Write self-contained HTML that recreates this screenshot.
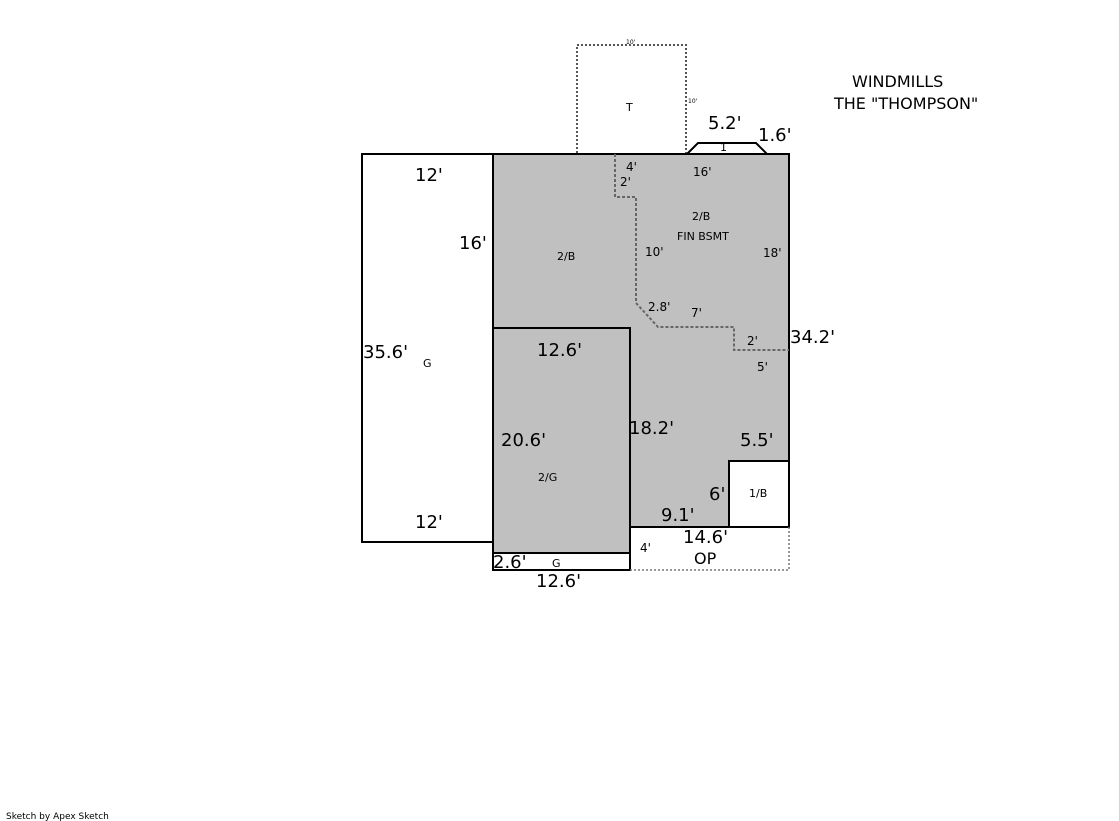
<!DOCTYPE html>
<html><head><meta charset="utf-8"><style>
html,body{margin:0;padding:0;background:#fff;}
svg{display:block;}
text{font-family:"DejaVu Sans","Liberation Sans",sans-serif;fill:#000;}
.b{font-size:18px;}
.s{font-size:12px;}
.t{font-size:11px;}
</style></head><body>
<svg width="1119" height="821" viewBox="0 0 1119 821" xmlns="http://www.w3.org/2000/svg">
<rect x="577" y="45" width="109" height="109" fill="none" stroke="#555" stroke-width="2" stroke-dasharray="2,2"/>
<text x="626" y="44" style="font-size:6px">10'</text>
<text x="688" y="103" style="font-size:6px">10'</text>
<text x="626" y="111" class="t">T</text>
<polygon points="687,154 698,143 756,143 767,154" fill="#fff" stroke="#000" stroke-width="2"/>
<text x="720" y="151" class="t">1</text>
<rect x="362" y="154" width="131" height="388" fill="#fff" stroke="#000" stroke-width="2"/>
<polygon points="493,154 789,154 789,461 729,461 729,527 630,527 630,553 493,553" fill="#c0c0c0" stroke="#000" stroke-width="2"/>
<rect x="493" y="328" width="137" height="225" fill="#c0c0c0" stroke="#000" stroke-width="2"/>
<rect x="729" y="461" width="60" height="66" fill="#fff" stroke="#000" stroke-width="2"/>
<rect x="493" y="553" width="137" height="17" fill="#fff" stroke="#000" stroke-width="2"/>
<polyline points="789,527 789,570 630,570" fill="none" stroke="#777" stroke-width="1.5" stroke-dasharray="2,2"/>
<polyline points="615,154 615,197 636,197 636,303 658,327 734,327 734,350 789,350" fill="none" stroke="#666" stroke-width="2" stroke-dasharray="3,2"/>
<text x="852" y="87" style="font-size:16px">WINDMILLS</text>
<text x="834" y="109" style="font-size:16px">THE "THOMPSON"</text>
<text x="708" y="129" class="b">5.2'</text>
<text x="758" y="141" class="b">1.6'</text>
<text x="415" y="181" class="b">12'</text>
<text x="459" y="249" class="b">16'</text>
<text x="363" y="358" class="b">35.6'</text>
<text x="423" y="367" class="t">G</text>
<text x="415" y="528" class="b">12'</text>
<text x="626" y="171" class="s">4'</text>
<text x="620" y="186" class="s">2'</text>
<text x="693" y="176" class="s">16'</text>
<text x="692" y="220" class="t">2/B</text>
<text x="677" y="240" class="t">FIN BSMT</text>
<text x="557" y="260" class="t">2/B</text>
<text x="645" y="256" class="s">10'</text>
<text x="763" y="257" class="s">18'</text>
<text x="648" y="311" class="s">2.8'</text>
<text x="691" y="317" class="s">7'</text>
<text x="747" y="345" class="s">2'</text>
<text x="790" y="343" class="b">34.2'</text>
<text x="757" y="371" class="s">5'</text>
<text x="537" y="356" class="b">12.6'</text>
<text x="629" y="434" class="b">18.2'</text>
<text x="740" y="446" class="b">5.5'</text>
<text x="501" y="446" class="b">20.6'</text>
<text x="538" y="481" class="t">2/G</text>
<text x="709" y="500" class="b">6'</text>
<text x="749" y="497" class="t">1/B</text>
<text x="661" y="521" class="b">9.1'</text>
<text x="683" y="543" class="b">14.6'</text>
<text x="640" y="552" class="s">4'</text>
<text x="694" y="564" style="font-size:16px">OP</text>
<text x="493" y="568" class="b">2.6'</text>
<text x="552" y="567" class="t">G</text>
<text x="536" y="587" class="b">12.6'</text>
<text x="6" y="819" style="font-size:9px">Sketch by Apex Sketch</text>
</svg>
</body></html>
